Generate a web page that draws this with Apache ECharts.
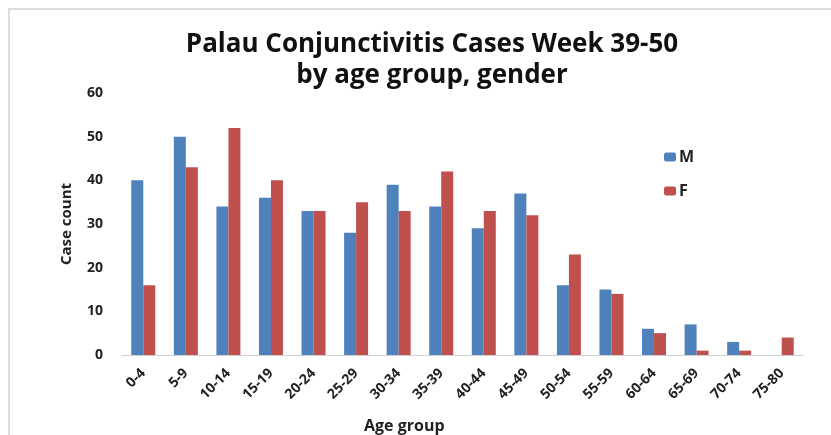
<!DOCTYPE html>
<html>
<head>
<meta charset="utf-8">
<script src="https://cdn.jsdelivr.net/npm/echarts@6/dist/echarts.min.js"></script>
<style>
  html, body { margin: 0; padding: 0; background: #fff; }
  #main { width: 831px; height: 435px; }
</style>
</head>
<body>
<div id="main"></div>
<script>
// 年龄组
var ageGroups = ['0-4', '5-9', '10-14', '15-19', '20-24', '25-29', '30-34', '35-39',
                 '40-44', '45-49', '50-54', '55-59', '60-64', '65-69', '70-74', '75-80'];
// 男
var maleCases = [40, 50, 34, 36, 33, 28, 39, 34, 29, 37, 16, 15, 6, 7, 3, 0];
// 女
var femaleCases = [16, 43, 52, 40, 33, 35, 33, 42, 33, 32, 23, 14, 5, 1, 1, 4];
var yTicks = [0, 10, 20, 30, 40, 50, 60];

var myChart = echarts.init(document.getElementById('main'));
var font = '"Open Sans", Lato, sans-serif';

option = {
    animation: false,
    backgroundColor: '#fff',
    graphic: [
        {   // 外框
            type: 'rect',
            shape: { x: 9, y: 9, width: 840, height: 440 },
            style: { fill: 'none', stroke: '#dcdcdc', lineWidth: 2 }
        }
    ],
    title: [
        {
            text: 'Palau Conjunctivitis Cases Week 39-50\nby age group, gender',
            left: 427,
            top: 24,
            textAlign: 'center',
            textStyle: {
                fontFamily: font,
                fontWeight: 'bold',
                fontSize: 26,
                lineHeight: 31,
                color: '#111'
            }
        },
        {
            text: 'Age group',
            left: 359,
            top: 413,
            textStyle: { fontFamily: font, fontWeight: 'bold', fontSize: 16, color: '#222' }
        }
    ],
    legend: {
        orient: 'vertical',
        left: 659,
        top: 144,
        itemWidth: 12,
        itemHeight: 9,
        itemGap: 18,
        data: ['M', 'F'],
        textStyle: { fontFamily: font, fontWeight: 'bold', fontSize: 16, color: '#222', padding: [0, 0, 0, -2] }
    },
    grid: { left: 122, right: 28, top: 93, bottom: 80 },
    xAxis: {
        type: 'category',
        data: ageGroups,
        axisLine: { lineStyle: { color: '#d0d0d0', width: 1 } },
        axisTick: { show: false },
        axisLabel: {
            rotate: 45,
            interval: 0,
            margin: 16,
            fontFamily: font,
            fontWeight: 'bold',
            fontSize: 14,
            color: '#222'
        }
    },
    yAxis: {
        type: 'value',
        min: 0,
        max: yTicks[yTicks.length - 1],
        interval: 10,
        name: 'Case count',
        nameLocation: 'middle',
        nameGap: 48,
        nameTextStyle: { fontFamily: font, fontWeight: 'bold', fontSize: 15, color: '#222' },
        axisLine: { show: false },
        axisTick: { show: false },
        splitLine: { show: false },
        axisLabel: {
            margin: 19,
            fontFamily: font,
            fontWeight: 'bold',
            fontSize: 14,
            color: '#222'
        }
    },
    series: [
        {
            name: 'M',
            type: 'bar',
            data: maleCases,
            barWidth: 12,
            barGap: '0%',
            itemStyle: { color: '#4F81BD' }
        },
        {
            name: 'F',
            type: 'bar',
            data: femaleCases,
            barWidth: 12,
            itemStyle: { color: '#C0504D' }
        }
    ]
};

myChart.setOption(option);
</script>
</body>
</html>
